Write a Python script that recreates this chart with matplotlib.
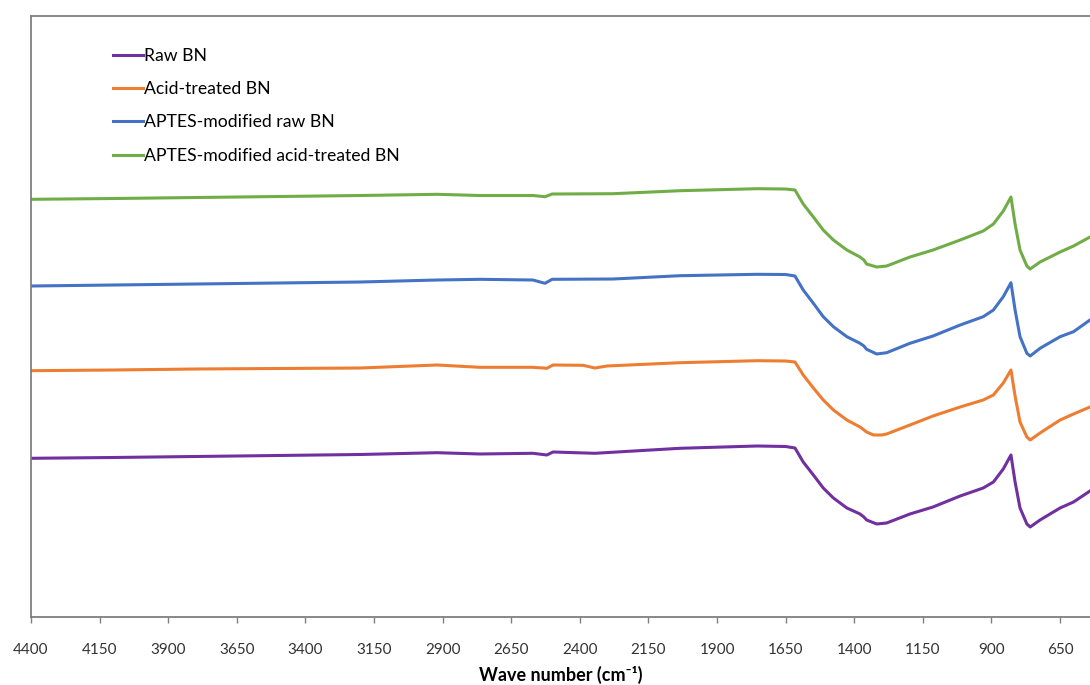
# FTIR spectra of BN samples (stacked, arbitrary transmittance units)
import matplotlib.pyplot as plt

# Wave numbers (cm-1) and curve values
wnGreen = [4400, 4100, 3800, 3500, 3200, 2920, 2764, 2571, 2527, 2501, 2279, 2035, 1754, 1650,
           1616, 1586, 1549, 1513, 1476, 1427, 1379, 1365, 1355, 1318, 1282, 1197, 1113, 1014,
           930, 893, 857, 829, 814, 796, 771, 759, 723, 650, 601, 541]
yGreen = [417.7, 418.5, 419.5, 420.5, 421.5, 422.7, 421.5, 421.5, 420.3, 423, 423.3, 426.3, 428.3, 428,
          427, 413, 400, 387, 377, 367, 360, 357, 353, 350, 351, 360, 367, 377,
          386, 393, 406, 420, 393, 367, 351, 348, 355, 365, 371, 380]

wnBlue = [4400, 4100, 3800, 3500, 3200, 2920, 2764, 2571, 2527, 2501, 2279, 2035, 1754, 1650,
          1616, 1586, 1549, 1513, 1476, 1427, 1379, 1365, 1355, 1318, 1282, 1197, 1113, 1014,
          930, 893, 857, 829, 814, 796, 771, 759, 723, 650, 601, 541]
yBlue = [331, 332, 333, 334, 335, 337, 337.7, 337, 333.7, 337.7, 338, 341.3, 342.7, 342.5,
         341, 327, 313.7, 300.3, 290.3, 280.3, 273.7, 271, 267.7, 263, 264.3, 273.7, 281, 292,
         300.3, 307, 320.3, 334.3, 307, 280.3, 263.7, 261, 268.7, 280.3, 285.3, 297]

wnOrange = [4400, 4100, 3800, 3500, 3200, 2920, 2764, 2571, 2520, 2498, 2388, 2345, 2301, 2035, 1754,
            1650, 1616, 1586, 1549, 1513, 1476, 1427, 1379, 1355, 1330, 1300, 1282, 1197, 1113, 1014,
            930, 893, 857, 829, 814, 796, 771, 759, 723, 650, 601, 541]
yOrange = [246.3, 247, 248, 248.5, 249, 252, 249.7, 249.7, 248.7, 252, 251.7, 249, 251, 254.3, 256.3,
           256, 255, 242, 229, 217, 207, 197, 190, 185, 182, 182, 183, 192, 201, 210,
           217, 222, 234, 247, 221, 195, 180, 177, 184, 197, 203, 210]

wnPurple = [4400, 4100, 3800, 3500, 3200, 2920, 2764, 2571, 2520, 2498, 2345, 2035, 1754, 1650,
            1616, 1586, 1549, 1513, 1476, 1427, 1379, 1365, 1355, 1318, 1282, 1197, 1113, 1014,
            930, 893, 857, 829, 814, 796, 771, 759, 723, 650, 601, 541]
yPurple = [158.7, 159.5, 160.5, 161.5, 162.5, 164.3, 163, 163.7, 162, 165, 163.7, 168.7, 171, 170.5,
           169, 155, 142, 129, 119, 109, 103, 100, 97, 93, 94, 103, 110, 121,
           129, 135, 148, 162, 135, 109, 93, 90, 97, 109, 115, 126]

labels = ["Raw BN", "Acid-treated BN", "APTES-modified raw BN", "APTES-modified acid-treated BN"]
xTicks = [4400, 4150, 3900, 3650, 3400, 3150, 2900, 2650, 2400, 2150, 1900, 1650, 1400, 1150, 900, 650]

############
# PLOTTING #
############

plt.rcParams['font.family'] = ['Lato', 'DejaVu Sans']

fig = plt.figure(figsize=(10.9, 6.85), dpi=100)
ax = fig.add_axes([0.0284, 0.0993, 0.9716, 0.8773])

ax.plot(wnPurple, yPurple, color="#7030A0", lw=2.2, label=labels[0])
ax.plot(wnOrange, yOrange, color="#ED7D31", lw=2.2, label=labels[1])
ax.plot(wnBlue, yBlue, color="#4472C4", lw=2.2, label=labels[2])
ax.plot(wnGreen, yGreen, color="#70AD47", lw=2.2, label=labels[3])

ax.set_xlim(4400, 541)
ax.set_ylim(0, 601)
ax.set_xticks(xTicks)
ax.set_yticks([])
ax.tick_params(axis="x", direction="out", length=4, width=1, color="#808080",
               labelsize=11, pad=15, labelcolor="#333333")

for side in ["left", "bottom", "top"]:
    ax.spines[side].set_color("#7f7f7f")
    ax.spines[side].set_linewidth(1.3)
ax.spines["right"].set_visible(False)

ax.set_xlabel("Wave number (cm⁻¹)", fontsize=13, fontweight="bold", labelpad=6)

ax.legend(loc="upper left", bbox_to_anchor=(0.0774, 0.947), frameon=False, fontsize=12.7,
          handlelength=1.7, handletextpad=0.05, labelspacing=0.98, borderpad=0, borderaxespad=0)

plt.savefig("out.png", dpi=100)
